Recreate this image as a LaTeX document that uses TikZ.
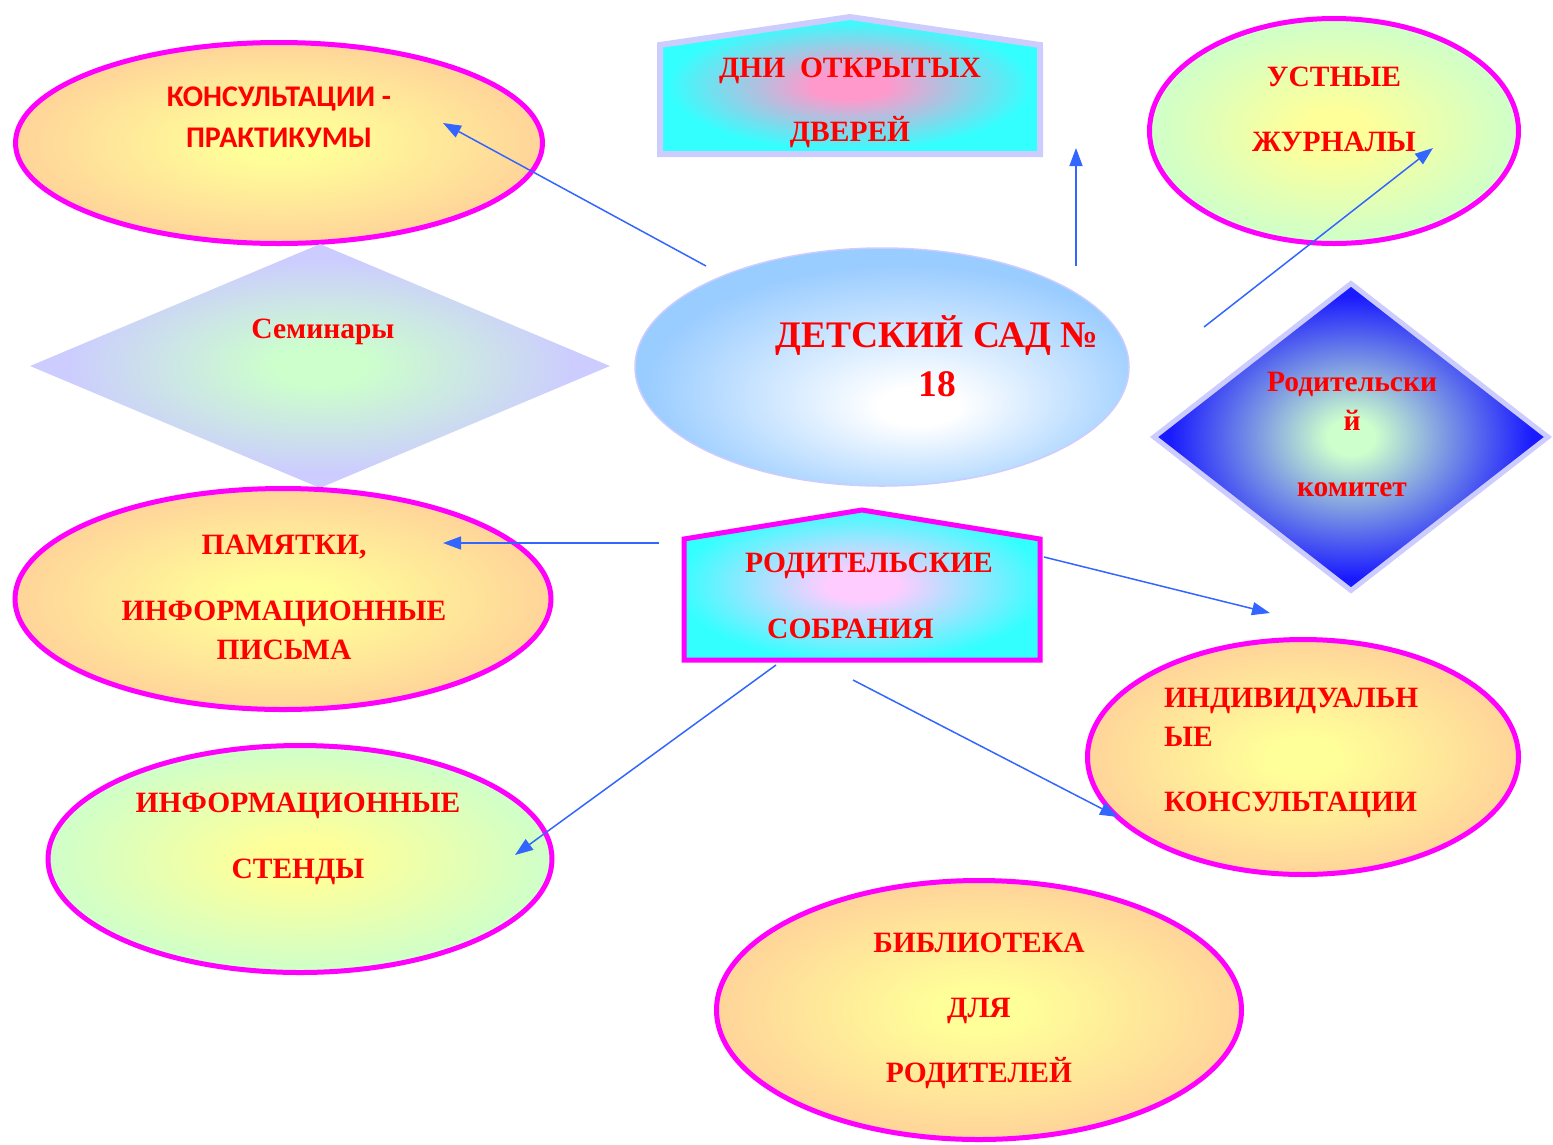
\documentclass[tikz,border=0pt]{standalone}
\usepackage{fontspec}
\setmainfont{Liberation Serif}
\newfontfamily\calibfont{Carlito}
\usepackage{tikz}
\usetikzlibrary{shapes.geometric,arrows.meta}

\definecolor{ringpink}{HTML}{FF00FF}
\definecolor{lilac}{HTML}{CCCCFF}
\definecolor{peach}{HTML}{FFCC99}
\definecolor{lemon}{HTML}{FFFF99}
\definecolor{mint}{HTML}{CCFFCC}
\definecolor{aqua}{HTML}{33FFFF}
\definecolor{rosy}{HTML}{FF99CC}
\definecolor{blush}{HTML}{FFCCFF}
\definecolor{sky}{HTML}{99CCFF}
\definecolor{deepblue}{HTML}{1A1AFF}
\definecolor{linkblue}{HTML}{3366FF}
\definecolor{inkred}{HTML}{FF0000}

\pgfdeclareradialshading{peachglow}{\pgfpoint{0bp}{0bp}}{color(0bp)=(lemon); color(4bp)=(lemon); color(29bp)=(peach); color(50bp)=(peach)}
\pgfdeclareradialshading{mintglow}{\pgfpoint{0bp}{0bp}}{color(0bp)=(lemon); color(4bp)=(lemon); color(26bp)=(mint); color(50bp)=(mint)}
\pgfdeclareradialshading{skyglow}{\pgfpoint{4bp}{-9bp}}{color(0bp)=(white); color(4bp)=(white); color(26bp)=(sky); color(50bp)=(sky)}
\pgfdeclareradialshading{lilacglow}{\pgfpoint{0bp}{0bp}}{color(0bp)=(mint); color(4bp)=(mint); color(22bp)=(lilac); color(50bp)=(lilac)}
\pgfdeclareradialshading{blueglow}{\pgfpoint{0bp}{0bp}}{color(0bp)=(mint); color(3bp)=(mint); color(23bp)=(deepblue); color(50bp)=(deepblue)}
\pgfdeclareradialshading{doorglow}{\pgfpoint{0bp}{0bp}}{color(0bp)=(rosy); color(5bp)=(rosy); color(24bp)=(aqua); color(50bp)=(aqua)}
\pgfdeclareradialshading{meetglow}{\pgfpoint{0bp}{0bp}}{color(0bp)=(blush); color(5bp)=(blush); color(26bp)=(aqua); color(50bp)=(aqua)}

\begin{document}
\begin{tikzpicture}[x=1pt,y=-1pt,
    oval/.style={ellipse, draw=ringpink, line width=5pt, inner sep=0pt, shade},
    rhomb/.style={diamond, inner sep=0pt, shade},
    lbl/.style={text=inkred, font=\bfseries\fontsize{29.5}{39}\selectfont, align=center, inner sep=0pt},
    link/.style={draw, color=linkblue, line width=1.5pt, -{Triangle[length=18pt,width=13pt]}}]
\useasboundingbox (0,0) rectangle (1553,1144);

\node[oval, shading=peachglow, minimum width=527pt, minimum height=201pt] (konsult) at (279,143) {};
\node[oval, shading=mintglow, minimum width=369pt, minimum height=225pt] (ustn) at (1334,131) {};
\node[rhomb, shading=lilacglow, minimum width=580pt, minimum height=244pt] (semin) at (320,366) {};
\node[ellipse, shade, shading=skyglow, draw=lilac, line width=1.5pt, minimum width=494pt, minimum height=238pt] (sad) at (882,367) {};
\node[rhomb, shading=blueglow, draw=lilac, line width=5pt, minimum width=396pt, minimum height=309pt] (komitet) at (1351,437) {};
\node[oval, shading=peachglow, minimum width=536pt, minimum height=221pt] (pamyat) at (283,599) {};
\node[oval, shading=peachglow, minimum width=431pt, minimum height=235pt] (indiv) at (1303,757) {};
\node[oval, shading=mintglow, minimum width=504pt, minimum height=227pt] (stend) at (300,859) {};
\node[oval, shading=peachglow, minimum width=525pt, minimum height=259pt] (bibl) at (979,1010) {};

\shadedraw[shading=doorglow, draw=lilac, line width=6pt]
  (660,154) -- (660,45) -- (850,17) -- (1040,45) -- (1040,154) -- cycle;
\shadedraw[shading=meetglow, draw=ringpink, line width=5pt]
  (684,660) -- (684,539) -- (862,510) -- (1040,539) -- (1040,660) -- cycle;

\coordinate (s_konsult) at (706,266);
\coordinate (t_konsult) at (443,123);
\coordinate (s_dni) at (1076,266);
\coordinate (t_dni) at (1076,148);
\coordinate (s_ustn) at (1204,327);
\coordinate (t_ustn) at (1433,148);
\coordinate (s_pamyat) at (659,543);
\coordinate (t_pamyat) at (443,543);
\coordinate (s_komitet) at (1044,557);
\coordinate (t_komitet) at (1270,613);
\coordinate (s_stend) at (776,665);
\coordinate (t_stend) at (515,855);
\coordinate (s_indiv) at (853,680);
\coordinate (t_indiv) at (1118,817);

\draw[link] (s_konsult) -- (t_konsult);
\draw[link] (s_dni) -- (t_dni);
\draw[link] (s_ustn) -- (t_ustn);
\draw[link] (s_pamyat) -- (t_pamyat);
\draw[link] (s_komitet) -- (t_komitet);
\draw[link] (s_stend) -- (t_stend);
\draw[link] (s_indiv) -- (t_indiv);

\node[lbl, font=\calibfont\bfseries\fontsize{30}{41}\selectfont] (konsult_t) at (279,117) {КОНСУЛЬТАЦИИ -\\ПРАКТИКУМЫ};
\node[lbl] (dni_t) at (850,103) {ДНИ\ \ ОТКРЫТЫХ\\[25pt]ДВЕРЕЙ};
\node[lbl] (ustn_t) at (1334,109) {УСТНЫЕ\\[26pt]ЖУРНАЛЫ};
\node[lbl] (semin_t) at (323,332) {Семинары};
\node[lbl, font=\bfseries\fontsize{37.5}{49}\selectfont] (sad_t) at (937,356) {ДЕТСКИЙ САД №\\18};
\node[lbl] (komitet_t) at (1352,434) {Родительски\\й\\[27pt]комитет};
\node[lbl] (pamyat_t) at (284,597) {ПАМЯТКИ,\\[27pt]ИНФОРМАЦИОННЫЕ\\ПИСЬМА};
\node[lbl, align=left, anchor=west] (sobr_t) at (745,596) {РОДИТЕЛЬСКИЕ\\[27pt]\hspace*{22pt}СОБРАНИЯ};
\node[lbl, align=left, anchor=west] (indiv_t) at (1164,753) {ИНДИВИДУАЛЬН\\ЫЕ\\[26pt]КОНСУЛЬТАЦИИ};
\node[lbl] (stend_t) at (298,839) {ИНФОРМАЦИОННЫЕ\\[27pt]СТЕНДЫ};
\node[lbl] (bibl_t) at (979,1011) {БИБЛИОТЕКА\\[26pt]ДЛЯ\\[26pt]РОДИТЕЛЕЙ};
\end{tikzpicture}
\end{document}
